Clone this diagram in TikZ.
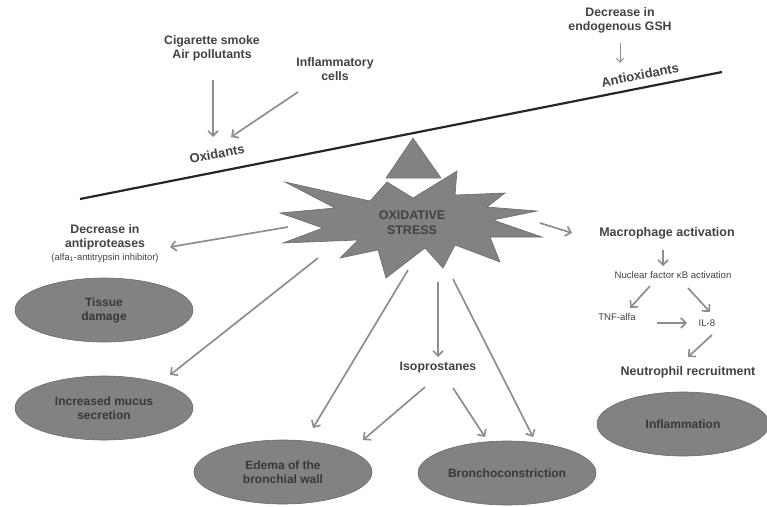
\documentclass[tikz,border=0pt]{standalone}
\usepackage{fontspec}
\setmainfont{Liberation Sans}
\usetikzlibrary{arrows.meta,shapes.geometric}
\definecolor{txt}{HTML}{424242}
\definecolor{arrg}{HTML}{8E8E8E}
\definecolor{shapefill}{HTML}{828282}
\definecolor{shapeedge}{HTML}{6A6A6A}
\tikzset{
  lbl/.style={font=\bfseries\fontsize{12.3}{14}\selectfont, text=txt, align=center, inner sep=0pt},
  biglbl/.style={font=\bfseries\fontsize{12.5}{14}\selectfont, text=txt, align=center, inner sep=0pt},
  smalllbl/.style={font=\fontsize{9.6}{11}\selectfont, text=txt, align=center, inner sep=0pt},
  ell/.style={ellipse, fill=shapefill, draw=shapeedge, line width=0.6pt, minimum width=178pt, minimum height=64pt, inner sep=0pt,
     font=\bfseries\fontsize{12}{14}\selectfont, text=txt!85!black, align=center},
  arr/.style={draw=arrg, line width=1.7pt, -{Straight Barb[length=5pt,width=10pt,line width=1.7pt]}},
  thinarr/.style={draw=arrg, line width=1pt, -{Straight Barb[length=4pt,width=7pt,line width=1pt]}},
}
\begin{document}
\begin{tikzpicture}[x=1pt,y=-1pt]
\useasboundingbox (0,0) rectangle (767,506);

% beam
\coordinate (beamL) at (80,199);
\coordinate (beamR) at (722,72);
\draw[line width=2.2pt, black!85] (beamL) -- (beamR);

% fulcrum triangle
\fill[shapefill, draw=shapeedge, line width=0.5pt] (413,138) -- (441,178) -- (386,178) -- cycle;

% star
\draw[fill=shapefill, draw=shapeedge, line width=0.6pt]
 (285,182) -- (370,201) -- (387,182) -- (413,198) -- (457,171) -- (455,195) -- (505,193)
 -- (487,207) -- (537,211) -- (493,220) -- (542,237) -- (490,237) -- (500,262) -- (455,245)
 -- (443,268) -- (425,248) -- (386,278) -- (378,250) -- (340,258) -- (358,240) -- (283,243)
 -- (323,228) -- (280,213) -- (335,208) -- cycle;
\node[lbl, font=\bfseries\fontsize{12.5}{15}\selectfont] (stress) at (412,223) {OXIDATIVE\\STRESS};

% top left
\node[lbl] (smoke) at (212,48) {Cigarette smoke\\Air pollutants};
\node[lbl] (inflcells) at (335,69) {Inflammatory\\cells};
\node[lbl, font=\bfseries\fontsize{13}{15}\selectfont, rotate=11] (oxid) at (217,154) {Oxidants};
\coordinate (smokeEnd) at (213,80);
\coordinate (oxA) at (213,137);
\coordinate (cellsEnd) at (298,92);
\coordinate (oxB) at (231,137);
\draw[arr] (smokeEnd) -- (oxA);
\draw[arr] (cellsEnd) -- (oxB);

% top right
\node[lbl] (gsh) at (620,20) {Decrease in\\endogenous GSH};
\node[lbl, font=\bfseries\fontsize{13}{15}\selectfont, rotate=11] (antiox) at (640,75) {Antioxidants};
\coordinate (gshEnd) at (620,43);
\coordinate (antiTop) at (620,63);
\draw[thinarr] (gshEnd) -- (antiTop);

% left
\node[lbl] (antiprot) at (105,237) {Decrease in\\antiproteases};
\node[smalllbl, font=\fontsize{9.4}{11}\selectfont] (alfa) at (105,258) {(alfa\textsubscript{1}-antitrypsin inhibitor)};
\node[ell] (tissue) at (104,310) {Tissue\\damage};
\node[ell] (mucus) at (104,408) {Increased mucus\\secretion};

% bottom
\node[lbl] (iso) at (438,368) {Isoprostanes};
\node[ell] (edema) at (283,472) {Edema of the\\bronchial wall};
\node[ell] (broncho) at (507,473) {Bronchoconstriction};

% right
\node[biglbl] (macro) at (667,233) {Macrophage activation};
\node[smalllbl] (nfkb) at (673,275) {Nuclear factor κB activation};
\node[smalllbl] (tnf) at (617,317) {TNF-alfa};
\node[smalllbl] (il8) at (707,323) {IL-8};
\node[biglbl] (neutro) at (688,372) {Neutrophil recruitment};
\node[ell, minimum width=172pt] (inflam) at (683,424) {Inflammation};

% star arrows
\coordinate (s1) at (288,227);
\coordinate (t1) at (170,247);
\coordinate (s2) at (318,258);
\coordinate (t2) at (170,375);
\coordinate (s3) at (408,270);
\coordinate (t3) at (313,428);
\coordinate (s4) at (438,282);
\coordinate (t4) at (438,357);
\coordinate (s5) at (453,279);
\coordinate (t5) at (533,437);
\coordinate (s6) at (540,223);
\coordinate (t6) at (572,233);
\draw[arr] (s1) -- (t1);
\draw[arr] (s2) -- (t2);
\draw[arr] (s3) -- (t3);
\draw[arr] (s4) -- (t4);
\draw[arr] (s5) -- (t5);
\draw[arr] (s6) -- (t6);

% isoprostanes arrows
\coordinate (i1) at (425,387);
\coordinate (e1) at (363,440);
\coordinate (i2) at (453,388);
\coordinate (b1) at (485,437);
\draw[arr] (i1) -- (e1);
\draw[arr] (i2) -- (b1);

% right chain
\coordinate (m1) at (663,250);
\coordinate (n1) at (663,266);
\draw[arr] (m1) -- (n1);
\coordinate (n2) at (650,286);
\coordinate (tn) at (630,308);
\draw[arr] (n2) -- (tn);
\coordinate (n3) at (688,288);
\coordinate (il) at (710,312);
\draw[arr] (n3) -- (il);
\coordinate (tn2) at (657,323);
\coordinate (il2) at (687,323);
\draw[arr] (tn2) -- (il2);
\coordinate (il3) at (712,335);
\coordinate (ne) at (688,357);
\draw[arr] (il3) -- (ne);
\end{tikzpicture}
\end{document}
